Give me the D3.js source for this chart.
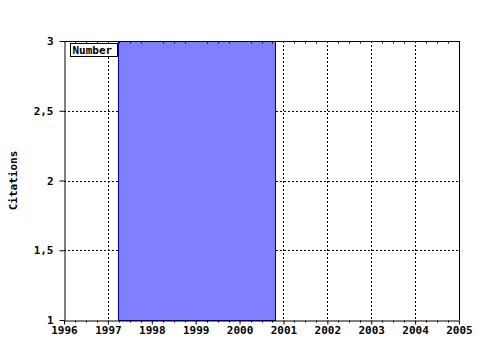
<!DOCTYPE html>
<html>
<head>
<meta charset="utf-8">
<script src="https://cdn.jsdelivr.net/npm/d3@7"></script>
<style>
  body { margin: 0; background: #fff; }
  text { font-family: "DejaVu Sans Mono", monospace; font-weight: bold; font-size: 11px; }
</style>
</head>
<body>
<div id="chart"></div>
<script>
// data
const years = [1996, 1997, 1998, 1999, 2000, 2001, 2002, 2003, 2004, 2005];
const yTicks = [1, 1.5, 2, 2.5, 3];
const barStart = [1997.23];
const barEnd = [2000.8];
const barValue = [3];
const seriesName = "Number";

const width = 480, height = 350;
const margin = { left: 64, right: 21, top: 41, bottom: 30 };

const svg = d3.select("#chart").append("svg")
   .attr("width", width)
   .attr("height", height);

const x = d3.scaleLinear().domain([1996, 2005]).range([margin.left, width - margin.right]);
const y = d3.scaleLinear().domain([1, 3]).range([height - margin.bottom, margin.top]);

const fmt = d => String(d).replace(".", ",");

// grid lines
svg.append("g")
   .selectAll("line")
   .data(years.slice(1, -1))
   .enter().append("line")
   .attr("x1", d => Math.round(x(d)) + 0.5)
   .attr("x2", d => Math.round(x(d)) + 0.5)
   .attr("y1", y(3)).attr("y2", y(1))
   .attr("stroke", "#000")
   .attr("stroke-dasharray", "2,2");

svg.append("g")
   .selectAll("line")
   .data(yTicks.slice(1, -1))
   .enter().append("line")
   .attr("y1", d => Math.round(y(d)) + 0.5)
   .attr("y2", d => Math.round(y(d)) + 0.5)
   .attr("x1", x(1996)).attr("x2", x(2005))
   .attr("stroke", "#000")
   .attr("stroke-dasharray", "2,2");

// bars
svg.append("g")
   .selectAll("rect")
   .data(barValue)
   .enter().append("rect")
   .attr("x", (d, i) => Math.round(x(barStart[i])) + 0.5)
   .attr("width", (d, i) => Math.round(x(barEnd[i]) - x(barStart[i])))
   .attr("y", d => Math.round(y(d)) + 0.5)
   .attr("height", d => Math.round(y(1) - y(d)))
   .attr("fill", "#8080ff")
   .attr("stroke", "#0000a0");

// minor ticks (quarter years)
const minor = d3.range(1996, 2005.01, 0.25).filter(d => d % 1 !== 0);

// bottom axis
const xAxis = d3.axisBottom(x).tickValues(years).tickFormat(d3.format("d")).tickSize(4).tickSizeOuter(0).tickPadding(2);
const gx = svg.append("g")
   .attr("transform", "translate(0," + (Math.round(y(1)) + 0.5) + ")")
   .call(xAxis);
gx.selectAll(".tick line").attr("stroke", "#000");
gx.selectAll(".tick text").attr("fill", "#000").style("font-size", "11px");
gx.append("g").selectAll("line")
   .data(minor)
   .enter().append("line")
   .attr("x1", d => Math.round(x(d)) + 0.5)
   .attr("x2", d => Math.round(x(d)) + 0.5)
   .attr("y1", 0).attr("y2", 2)
   .attr("stroke", "#000");

// top axis, ticks inside
const gt = svg.append("g")
   .attr("transform", "translate(0," + (Math.round(y(3)) + 0.5) + ")");
gt.append("line")
   .attr("x1", x(1996)).attr("x2", x(2005))
   .attr("stroke", "#000");
gt.selectAll("line.minor")
   .data(minor)
   .enter().append("line")
   .attr("class", "minor")
   .attr("x1", d => Math.round(x(d)) + 0.5)
   .attr("x2", d => Math.round(x(d)) + 0.5)
   .attr("y1", 0).attr("y2", 2)
   .attr("stroke", "#000");

// left axis
const yAxis = d3.axisLeft(y).tickValues(yTicks).tickFormat(fmt).tickSize(5).tickSizeOuter(0).tickPadding(6);
const gy = svg.append("g")
   .attr("transform", "translate(" + (Math.round(x(1996)) + 0.5) + ",0)")
   .call(yAxis);
gy.selectAll(".tick text").attr("fill", "#000").style("font-size", "11px");

// right border
svg.append("line")
   .attr("x1", Math.round(x(2005)) + 0.5).attr("x2", Math.round(x(2005)) + 0.5)
   .attr("y1", y(3)).attr("y2", y(1))
   .attr("stroke", "#000");

// y label
svg.append("text")
   .attr("transform", "translate(17," + ((y(1) + y(3)) / 2) + ") rotate(-90)")
   .attr("text-anchor", "middle")
   .text("Citations");

// legend
const lg = svg.append("g").attr("transform", "translate(70.5,43.5)");
lg.append("rect")
   .attr("width", 47).attr("height", 13)
   .attr("fill", "#fff").attr("stroke", "#000");
lg.append("text")
   .attr("x", 2).attr("y", 10.5)
   .text(seriesName);
</script>
</body>
</html>
